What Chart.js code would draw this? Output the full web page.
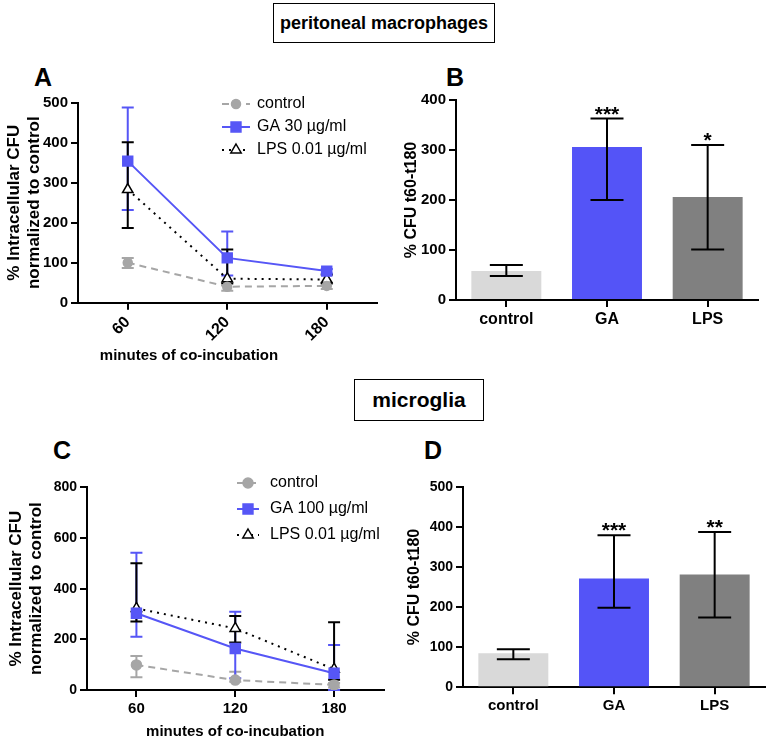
<!DOCTYPE html>
<html>
<head>
<meta charset="utf-8">
<script src="https://cdn.jsdelivr.net/npm/chart.js@4.4.0/dist/chart.umd.min.js"></script>
<style>
  body { margin: 0; background: #fff; width: 767px; height: 741px; position: relative; overflow: hidden;
         font-family: "Liberation Sans", Arial, sans-serif; color: #000; }
  .box { position: absolute; border: 1.5px solid #000; font-weight: bold; display: flex;
         align-items: center; justify-content: center; box-sizing: border-box; }
  .lbl { position: absolute; font-weight: bold; font-size: 25px; line-height: 25px; }
  canvas { position: absolute; }
</style>
</head>
<body>
<div class="box" style="left:273px;top:3px;width:222px;height:40px;font-size:18px">peritoneal macrophages</div>
<div class="box" style="left:354px;top:379px;width:130px;height:42px;font-size:21px">microglia</div>
<div class="lbl" style="left:34px;top:65px">A</div>
<div class="lbl" style="left:446px;top:65px">B</div>
<div class="lbl" style="left:53px;top:438px">C</div>
<div class="lbl" style="left:424px;top:438px">D</div>

<canvas id="chartA" width="385" height="282" style="left:0;top:88px"></canvas>
<canvas id="chartB" width="382" height="282" style="left:385px;top:88px"></canvas>
<canvas id="chartC" width="392" height="286" style="left:0;top:455px"></canvas>
<canvas id="chartD" width="382" height="286" style="left:385px;top:455px"></canvas>

<script>
// x categories
const timeLabels = ["60", "120", "180"];
const groupLabels = ["control", "GA", "LPS"];

// A: peritoneal macrophages, time course (mean, lower and upper error bar ends)
const aControl = [100, 40, 42];
const aControlLow = [87, 30, 34];
const aControlHigh = [112, 49, 50];
const aGA = [354, 112, 79];
const aGALow = [232, 68, 73];
const aGAHigh = [488, 178, 84];
const aLPS = [283, 60, 58];
const aLPSLow = [187, 48, 48];
const aLPSHigh = [401, 133, 70];

// B: peritoneal macrophages, CFU t60-t180
const bValues = [58, 306, 206];
const bLow = [48, 200, 101];
const bHigh = [70, 363, 310];
const bStars = ["", "***", "*"];

// C: microglia, time course
const cControl = [99, 39, 20];
const cControlLow = [50, 33, 10];
const cControlHigh = [134, 72, 28];
const cGA = [303, 164, 66];
const cGALow = [210, 46, 0];
const cGAHigh = [542, 309, 178];
const cLPS = [322, 243, 82];
const cLPSLow = [270, 187, 40];
const cLPSHigh = [500, 292, 267];

// D: microglia, CFU t60-t180
const dValues = [85, 271, 281];
const dLow = [70, 198, 174];
const dHigh = [95, 379, 387];
const dStars = ["", "***", "**"];

const GRAY = "#a6a6a6";
const BLUE = "#5656f6";
const BLACK = "#000000";
const barColors = ["#d9d9d9", "#5454f7", "#808080"];

Chart.defaults.font.family = "'Liberation Sans', Arial, sans-serif";
Chart.defaults.color = "#000";

// error bars + significance stars
const errorBars = {
  id: "errorBars",
  beforeDatasetsDraw(chart) {
    if (chart.config.type === "line") drawErrors(chart);
  },
  afterDatasetsDraw(chart) {
    if (chart.config.type === "bar") drawErrors(chart);
  }
};

function drawErrors(chart) {
  const ctx = chart.ctx;
  const yScale = chart.scales.y;
  chart.data.datasets.forEach((ds, i) => {
    if (!ds.errLow) return;
    const meta = chart.getDatasetMeta(i);
    ctx.save();
    ctx.strokeStyle = ds.errColor || ds.borderColor;
    ctx.lineWidth = 2;
    ctx.setLineDash([]);
    meta.data.forEach((el, j) => {
      const x = el.x;
      const top = yScale.getPixelForValue(ds.errHigh[j]);
      const bot = yScale.getPixelForValue(ds.errLow[j]);
      const w = ds.capWidth / 2;
      ctx.beginPath();
      ctx.moveTo(x, top); ctx.lineTo(x, bot);
      ctx.moveTo(x - w, top); ctx.lineTo(x + w, top);
      ctx.moveTo(x - w, bot); ctx.lineTo(x + w, bot);
      ctx.stroke();
      if (ds.stars && ds.stars[j]) {
        ctx.fillStyle = "#000";
        ctx.font = "bold 21px 'Liberation Sans', Arial, sans-serif";
        ctx.textAlign = "center";
        ctx.textBaseline = "alphabetic";
        ctx.fillText(ds.stars[j], x, top + 2);
      }
    });
    ctx.restore();
  });
}

function drawMarker(ctx, style, r, x, y) {
  ctx.beginPath();
  if (style === "rect") {
    const s = r * Math.SQRT1_2;
    ctx.rect(x - s, y - s, 2 * s, 2 * s);
  } else if (style === "triangle") {
    ctx.moveTo(x, y - r);
    ctx.lineTo(x + r * 0.866, y + r * 0.5);
    ctx.lineTo(x - r * 0.866, y + r * 0.5);
    ctx.closePath();
  } else {
    ctx.arc(x, y, r, 0, Math.PI * 2);
  }
  ctx.fill();
  ctx.stroke();
}

// legend with line + marker, like the original
const lineLegend = {
  id: "lineLegend",
  afterDraw(chart, args, opts) {
    const ctx = chart.ctx;
    ctx.save();
    chart.data.datasets.forEach((ds, i) => {
      const y = opts.rows[i];
      ctx.strokeStyle = ds.borderColor;
      ctx.lineWidth = 2;
      ctx.setLineDash(ds.borderDash || []);
      ctx.beginPath();
      ctx.moveTo(opts.x, y);
      ctx.lineTo(opts.x + opts.len, y);
      ctx.stroke();
      ctx.setLineDash([]);
      ctx.fillStyle = ds.pointBackgroundColor;
      ctx.lineWidth = ds.pointBorderWidth || 1;
      drawMarker(ctx, ds.pointStyle, ds.pointRadius, opts.x + opts.len / 2, y);
      ctx.fillStyle = "#000";
      ctx.font = "16px 'Liberation Sans', Arial, sans-serif";
      ctx.textAlign = "left";
      ctx.textBaseline = "middle";
      ctx.fillText(ds.label, opts.textX, y);
    });
    ctx.restore();
  }
};

function lineSet(label, data, low, high, color, dash, style, radius, fill) {
  return {
    label, data, errLow: low, errHigh: high, capWidth: 12,
    borderColor: color, borderWidth: 2, borderDash: dash,
    pointStyle: style, pointRadius: radius, pointHoverRadius: radius,
    pointBackgroundColor: fill, pointBorderColor: color, pointBorderWidth: 1.5,
    tension: 0, fill: false
  };
}

function yAxis(max, step, width, fontSize, title, titleSize, titlePad) {
  return {
    min: 0, max: max,
    ticks: { stepSize: step, padding: 3, font: { size: fontSize, weight: "bold" } },
    grid: { drawOnChartArea: false, tickLength: 7, color: "#000", lineWidth: 2 },
    border: { display: true, color: "#000", width: 2 },
    title: { display: true, text: title, font: { size: titleSize, weight: "bold", lineHeight: 1.2 },
             padding: { top: titlePad, bottom: 0 } },
    afterFit: s => { s.width = width; }
  };
}

function xAxis(height, fontSize, rotate, title) {
  return {
    offset: true,
    ticks: { padding: 3, minRotation: rotate, maxRotation: rotate, font: { size: fontSize, weight: "bold" } },
    grid: { drawOnChartArea: false, offset: false, tickLength: 7, color: "#000", lineWidth: 2 },
    border: { display: true, color: "#000", width: 2 },
    title: title ? { display: true, text: title, font: { size: 15, weight: "bold" }, padding: { top: 0, bottom: 0 } }
                 : { display: false },
    afterFit: s => { s.height = height; }
  };
}

// A
new Chart(document.getElementById("chartA"), {
  type: "line",
  data: {
    labels: timeLabels,
    datasets: [
      lineSet("control", aControl, aControlLow, aControlHigh, GRAY, [7, 5], "circle", 4.5, GRAY),
      lineSet("GA 30 µg/ml", aGA, aGALow, aGAHigh, BLUE, [], "rect", 7, BLUE),
      lineSet("LPS 0.01 µg/ml", aLPS, aLPSLow, aLPSHigh, BLACK, [2, 5], "triangle", 6, "#fff")
    ]
  },
  options: {
    responsive: false, animation: false,
    layout: { padding: { top: 14.7, right: 7, left: 0, bottom: 0 } },
    scales: {
      x: xAxis(44.3, 16, 45, null),
      y: yAxis(500, 100, 78, 15, ["% Intracellular CFU", "normalized to control"], 17, 4)
    },
    plugins: {
      legend: { display: false },
      tooltip: { enabled: false },
      title: { display: true, position: "bottom", text: "minutes of co-incubation",
               font: { size: 15, weight: "bold" }, padding: { top: 0, bottom: 5 } },
      lineLegend: { x: 222, len: 28, textX: 257, rows: [16, 39, 62] }
    }
  },
  plugins: [errorBars, lineLegend]
});

// B
new Chart(document.getElementById("chartB"), {
  type: "bar",
  data: {
    labels: groupLabels,
    datasets: [{
      data: bValues, errLow: bLow, errHigh: bHigh, stars: bStars, capWidth: 33, errColor: "#000",
      backgroundColor: barColors, borderWidth: 0, barPercentage: 0.695, categoryPercentage: 1
    }]
  },
  options: {
    responsive: false, animation: false,
    layout: { padding: { top: 11, right: 9, left: 0, bottom: 0 } },
    scales: {
      x: xAxis(70, 16, 0, null),
      y: yAxis(400, 100, 71, 15, "% CFU t60-t180", 16, 17)
    },
    plugins: { legend: { display: false }, tooltip: { enabled: false } }
  },
  plugins: [errorBars]
});

// C
new Chart(document.getElementById("chartC"), {
  type: "line",
  data: {
    labels: timeLabels,
    datasets: [
      lineSet("control", cControl, cControlLow, cControlHigh, GRAY, [7, 5], "circle", 5, GRAY),
      lineSet("GA 100 µg/ml", cGA, cGALow, cGAHigh, BLUE, [], "rect", 7, BLUE),
      lineSet("LPS 0.01 µg/ml", cLPS, cLPSLow, cLPSHigh, BLACK, [2, 5], "triangle", 6, "#fff")
    ]
  },
  options: {
    responsive: false, animation: false,
    layout: { padding: { top: 32.3, right: 2, left: 0, bottom: 0 } },
    scales: {
      x: xAxis(51, 15, 0, "minutes of co-incubation"),
      y: yAxis(800, 200, 87, 14, ["% Intracellular CFU", "normalized to control"], 17, 6)
    },
    plugins: {
      legend: { display: false },
      tooltip: { enabled: false },
      lineLegend: { x: 237, len: 22, textX: 270, rows: [28, 54, 80] }
    }
  },
  plugins: [errorBars, lineLegend]
});

// D
new Chart(document.getElementById("chartD"), {
  type: "bar",
  data: {
    labels: groupLabels,
    datasets: [{
      data: dValues, errLow: dLow, errHigh: dHigh, stars: dStars, capWidth: 33, errColor: "#000",
      backgroundColor: barColors, borderWidth: 0, barPercentage: 0.695, categoryPercentage: 1
    }]
  },
  options: {
    responsive: false, animation: false,
    layout: { padding: { top: 31.7, right: 2, left: 0, bottom: 0 } },
    scales: {
      x: xAxis(53.7, 15, 0, null),
      y: yAxis(500, 100, 78, 14, "% CFU t60-t180", 16, 20)
    },
    plugins: { legend: { display: false }, tooltip: { enabled: false } }
  },
  plugins: [errorBars]
});
</script>
</body>
</html>
